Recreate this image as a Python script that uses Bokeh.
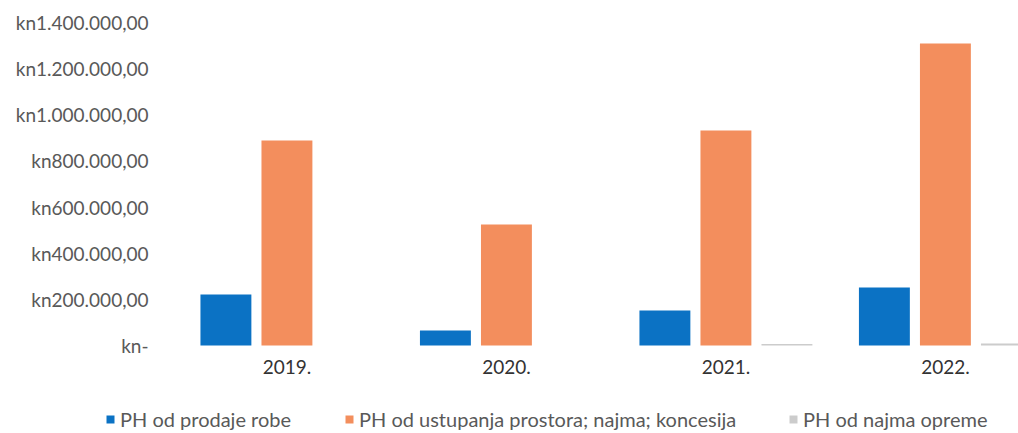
from bokeh.plotting import figure
from bokeh.models import (ColumnDataSource, Range1d, Legend, LegendItem)
from bokeh.transform import dodge
from bokeh.embed import file_html
from bokeh.resources import INLINE

# ---- data ----
years = ["2019.", "2020.", "2021.", "2022."]
prodaja_robe = [221000, 65000, 152000, 251000]
ustupanje_prostora = [889000, 524000, 932000, 1309000]
najam_opreme = [0, 0, 7000, 9000]
series_names = ["PH od prodaje robe",
                "PH od ustupanja prostora; najma; koncesija",
                "PH od najma opreme"]
y_ticks = [0, 200000, 400000, 600000, 800000, 1000000, 1200000, 1400000]
y_tick_labels = ["kn-", "kn200.000,00", "kn400.000,00", "kn600.000,00",
                 "kn800.000,00", "kn1.000.000,00", "kn1.200.000,00", "kn1.400.000,00"]

colors = ["#0b72c4", "#f38e5d", "#cccccc"]
FONT = "Lato"

x_idx = list(range(len(years)))
src = ColumnDataSource(dict(x=x_idx, a=prodaja_robe, b=ustupanje_prostora, c=najam_opreme))

XR = Range1d(-1.305, 3.333)
YR = Range1d(-381400, 1495400)
p = figure(width=1018, height=433, output_backend="svg", toolbar_location=None,
           x_range=XR, y_range=YR, x_axis_location=None, y_axis_location=None,
           min_border=0)
p.outline_line_color = None
p.grid.visible = False
p.background_fill_color = "white"
p.border_fill_color = "white"

w = 0.232
off = 0.278
r1 = p.vbar(x=dodge("x", -off), top="a", width=w, source=src, fill_color=colors[0], line_color=None)
r2 = p.vbar(x="x", top="b", width=w, source=src, fill_color=colors[1], line_color=None)
r3 = p.vbar(x=dodge("x", off), top="c", width=w, source=src, fill_color=colors[2], line_color=None)

# value-axis tick labels
ysrc = ColumnDataSource(dict(y=y_ticks, t=y_tick_labels, x=[XR.start] * len(y_ticks)))
p.text(x="x", y="y", text="t", source=ysrc, x_offset=148,
       text_align="right", text_baseline="middle",
       text_font={"value": FONT}, text_font_size="19px", text_color="#595959")

# category labels
csrc = ColumnDataSource(dict(x=x_idx, y=[0] * len(years), t=years))
p.text(x="x", y="y", text="t", source=csrc, y_offset=21,
       text_align="center", text_baseline="middle",
       text_font={"value": FONT}, text_font_size="19px", text_color="#333333")

# legends (one per item, positioned like the original)
for r, name, lx in zip([r1, r2, r3], series_names, [105, 344, 788]):
    lg = Legend(items=[LegendItem(label=name, renderers=[r])], location=(lx, 2),
                orientation="horizontal", padding=0, margin=0,
                border_line_color=None, background_fill_alpha=0,
                glyph_width=10, glyph_height=10, label_standoff=5,
                label_text_font=FONT, label_text_font_size="20px",
                label_text_color="#595959", label_height=20)
    p.add_layout(lg)

open("out.html", "w").write(file_html(p, INLINE))
